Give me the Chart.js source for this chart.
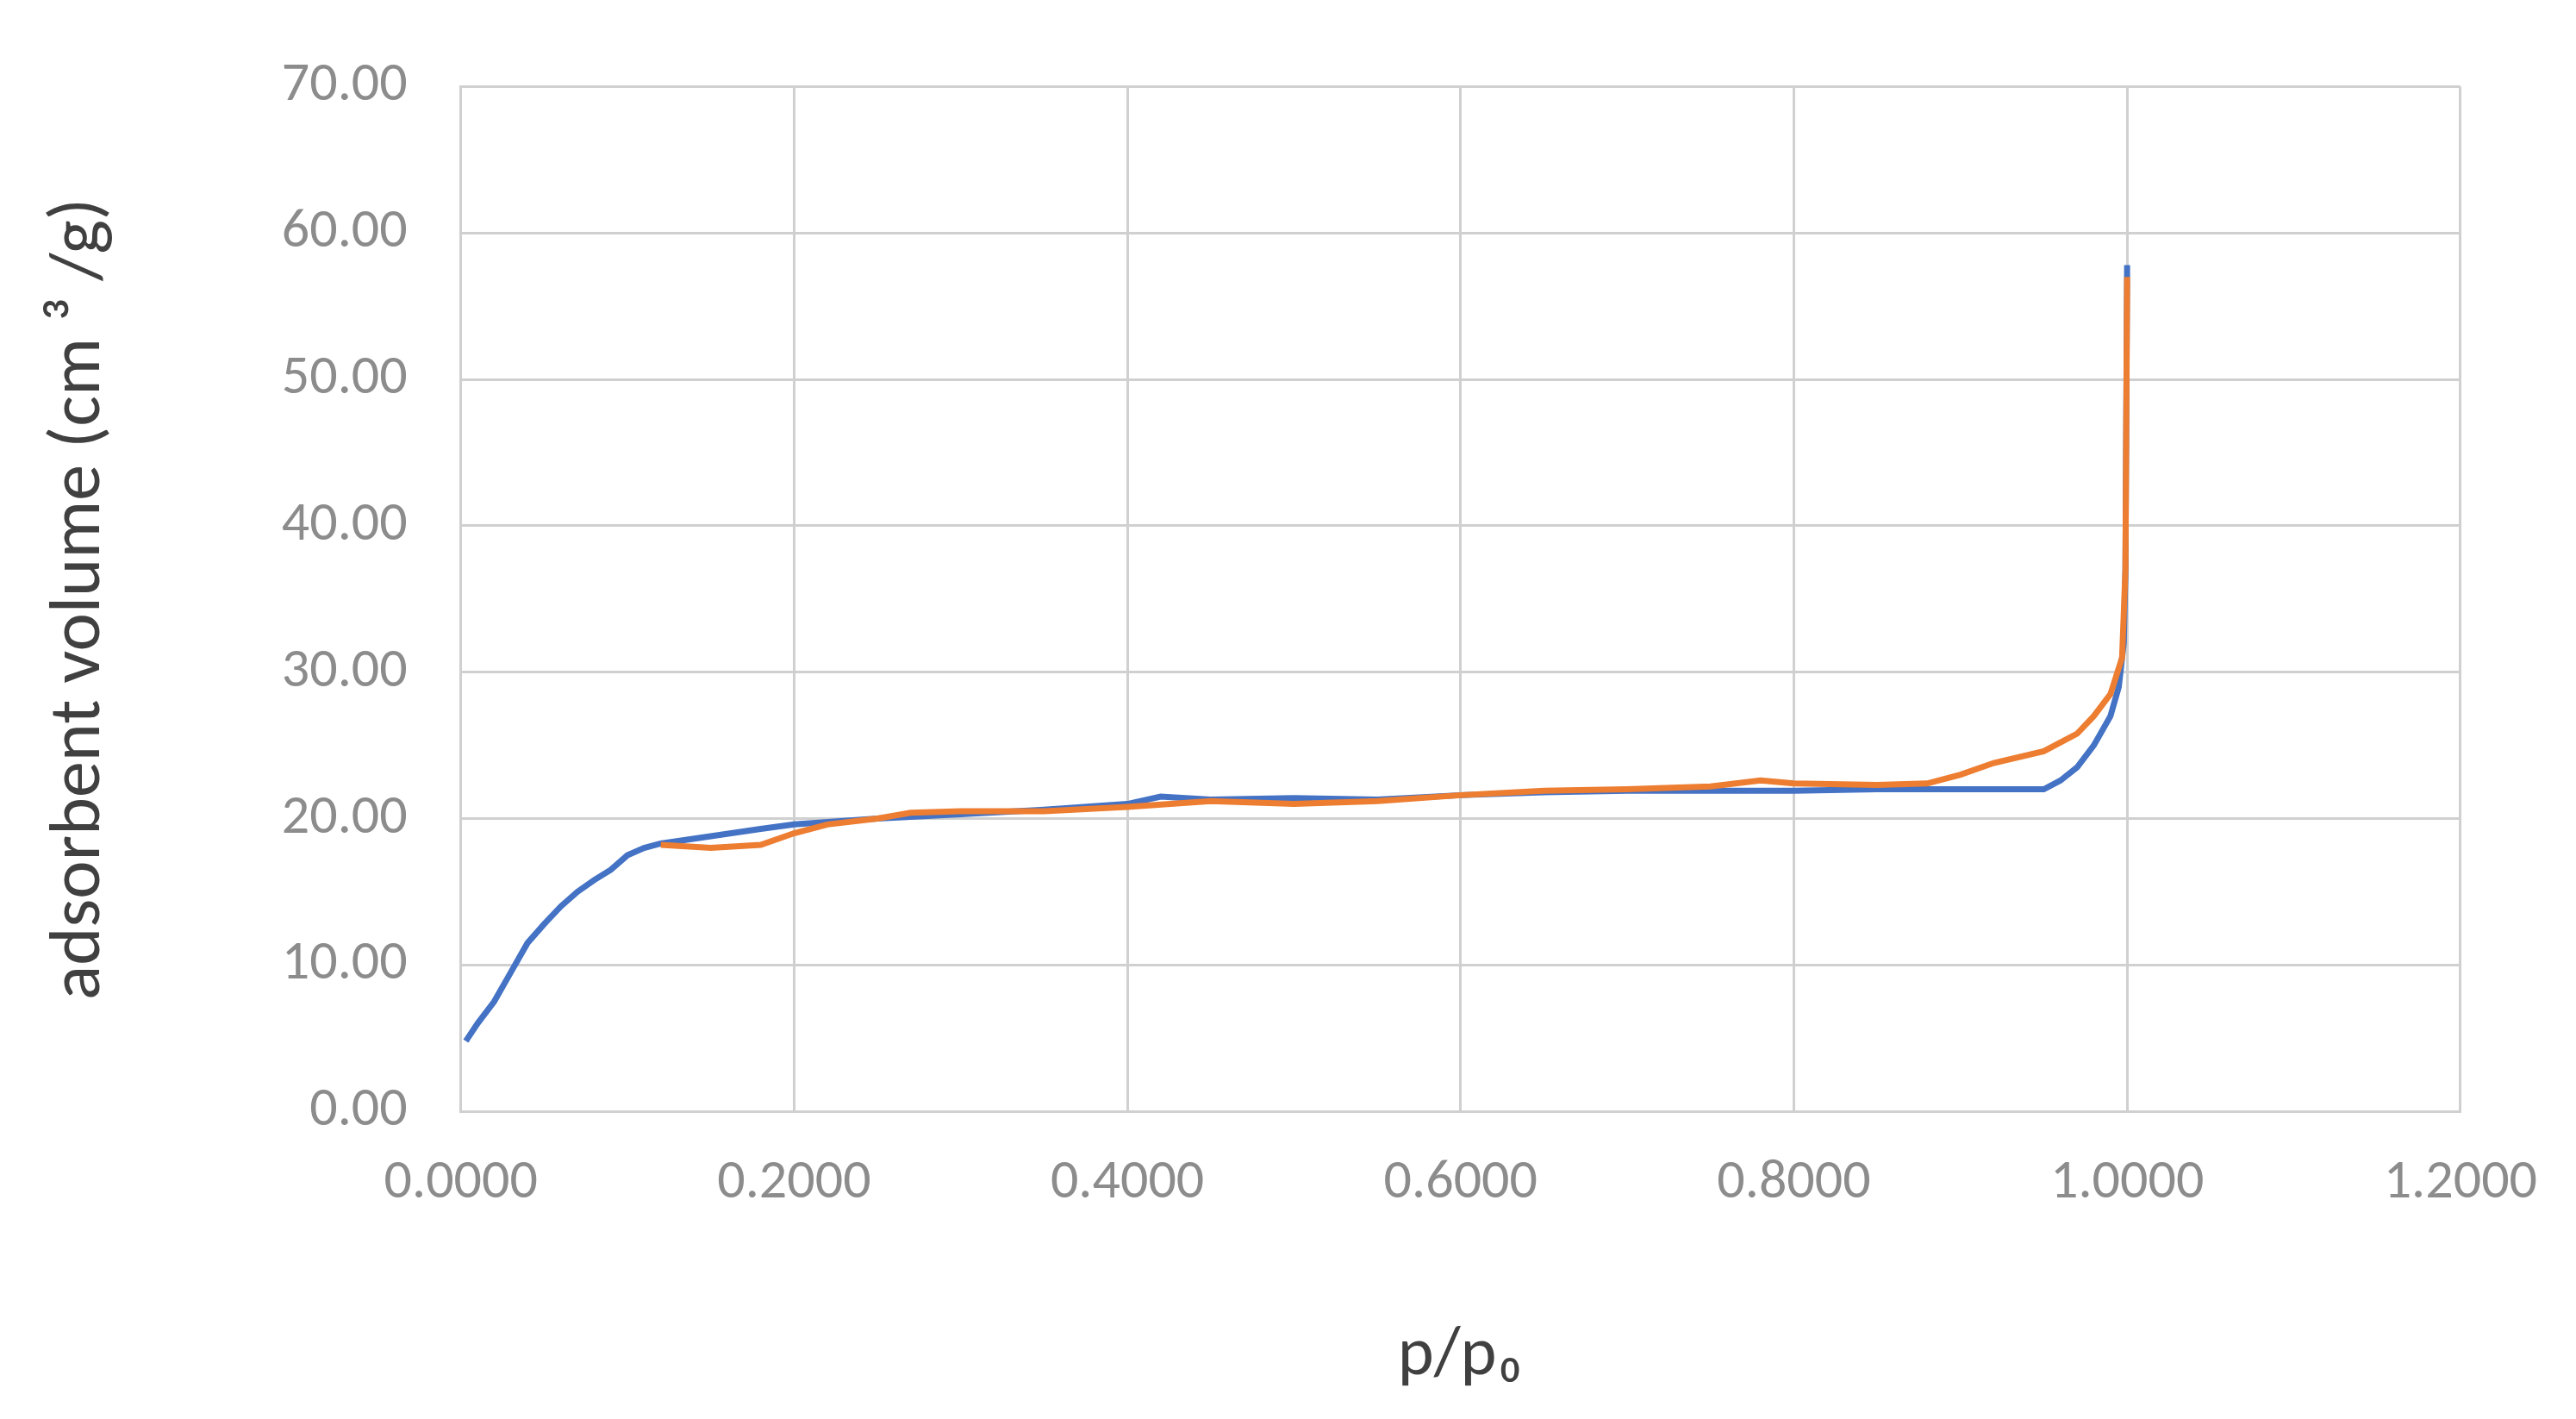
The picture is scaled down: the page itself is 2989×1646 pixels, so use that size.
<!DOCTYPE html>
<html><head><meta charset="utf-8">
<script src="https://cdn.jsdelivr.net/npm/chart.js@4/dist/chart.umd.min.js"></script>
<style>html,body{margin:0;padding:0;background:#fff}#w{width:2989px;height:1646px}</style>
</head><body><div id="w"><canvas id="c"></canvas></div>
<script>
const adsX=[0.003,0.01,0.02,0.03,0.04,0.05,0.06,0.07,0.08,0.09,0.1,0.11,0.12,0.15,0.18,0.2,0.25,0.3,0.35,0.4,0.42,0.45,0.5,0.55,0.6,0.65,0.7,0.75,0.8,0.85,0.9,0.95,0.96,0.97,0.98,0.99,0.995,0.998,0.999,1.0];
const adsY=[4.8,6,7.5,9.5,11.5,12.8,14,15,15.8,16.5,17.5,18,18.3,18.8,19.3,19.6,20,20.3,20.6,21,21.5,21.3,21.4,21.3,21.6,21.8,21.9,21.9,21.9,22,22,22,22.6,23.5,25,27,29,32,37,57.8];
const desX=[1.0,0.999,0.997,0.99,0.98,0.97,0.95,0.92,0.9,0.88,0.85,0.8,0.78,0.75,0.7,0.65,0.6,0.55,0.5,0.45,0.4,0.35,0.3,0.27,0.25,0.22,0.2,0.18,0.15,0.12];
const desY=[57,37,31,28.5,27,25.8,24.6,23.8,23,22.4,22.3,22.4,22.6,22.2,22,21.9,21.6,21.2,21,21.2,20.8,20.5,20.5,20.4,20,19.6,19,18.2,18,18.2];
const xTitle="p/p₀", yTitle="adsorbent volume (cm ³ /g)";
const pts=(xs,ys)=>xs.map((x,i)=>({x:x,y:ys[i]}));
const fam="Calibri, 'Liberation Sans', 'Open Sans', sans-serif";
const tickFont={family:fam,size:64};
new Chart(document.getElementById('c'),{type:'scatter',
data:{datasets:[
{data:pts(adsX,adsY),showLine:true,borderColor:'#4472C4',borderWidth:7,pointRadius:0,tension:0,order:2},
{data:pts(desX,desY),showLine:true,borderColor:'#ED7D31',borderWidth:7,pointRadius:0,tension:0,order:1}]},
options:{responsive:true,maintainAspectRatio:false,devicePixelRatio:1,animation:false,
layout:{padding:{left:40,right:75,top:40,bottom:20}},
plugins:{legend:{display:false},tooltip:{enabled:false}},
scales:{
x:{type:'linear',min:0,max:1.2,ticks:{stepSize:0.2,color:'#8c8c8c',font:tickFont,padding:45,callback:v=>v.toFixed(4)},
 grid:{color:'#d0d0d0',lineWidth:3,drawTicks:false},border:{color:'#d0d0d0',width:3},
 title:{display:true,text:xTitle,color:'#404040',font:{family:fam,size:80},padding:{top:70}}},
y:{min:0,max:70,ticks:{stepSize:10,color:'#8c8c8c',font:tickFont,padding:62,callback:v=>v.toFixed(2)},
 grid:{color:'#d0d0d0',lineWidth:3,drawTicks:false},border:{color:'#d0d0d0',width:3},
 title:{display:true,text:yTitle,color:'#404040',font:{family:fam,size:84},padding:{bottom:120}}}
}}});
</script></body></html>
